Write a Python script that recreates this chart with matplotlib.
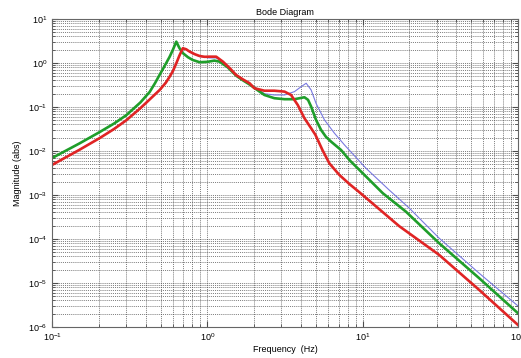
import matplotlib
matplotlib.use('Agg')
import matplotlib.pyplot as plt
import numpy as np

plt.rcParams['font.family'] = ['Liberation Sans', 'DejaVu Sans']

# values
freq_green = [0.1, 0.15, 0.203, 0.25, 0.3, 0.37, 0.425, 0.46, 0.493, 0.53, 0.572, 0.6, 0.631,
              0.66, 0.693, 0.75, 0.804, 0.891, 1.0, 1.11, 1.20, 1.35, 1.54, 1.7, 1.87, 2.17,
              2.33, 2.70, 3.14, 3.64, 4.0, 4.22, 4.45, 4.66, 5.01, 5.40, 5.8, 6.26, 7.26,
              8.3, 9.53, 13.5, 19.0, 31.1, 56.3, 100]
mag_green = [6.9e-3, 0.0148, 0.027, 0.0417, 0.0646, 0.126, 0.219, 0.347, 0.54, 0.85, 1.39, 2.0, 3.05,
             2.2, 1.69, 1.35, 1.17, 1.04, 1.06, 1.13, 1.07, 0.80, 0.507, 0.40, 0.324, 0.223,
             0.187, 0.158, 0.150, 0.150, 0.160, 0.166, 0.145, 0.102, 0.0507, 0.030, 0.021, 0.0163, 0.0105,
             6.0e-3, 3.7e-3, 1.09e-3, 4.17e-4, 7.98e-5, 1.28e-5, 2.05e-6]

freq_red = [0.1, 0.15, 0.203, 0.25, 0.3, 0.37, 0.425, 0.46, 0.493, 0.54, 0.572, 0.60, 0.631, 0.66,
            0.695, 0.73, 0.769, 0.83, 0.891, 0.96, 1.03, 1.14, 1.26, 1.4, 1.53, 1.7, 1.87, 2.01,
            2.33, 2.70, 3.14, 3.46, 3.82, 4.22, 4.66, 4.97, 5.51, 6.11, 7.08, 8.2, 9.53, 17.2,
            31.1, 56.3, 100]
mag_red = [4.81e-3, 0.0106, 0.0197, 0.0313, 0.0495, 0.0933, 0.148, 0.193, 0.243, 0.355, 0.489, 0.653, 0.984, 1.46,
           2.16, 2.05, 1.81, 1.58, 1.44, 1.38, 1.39, 1.39, 1.07, 0.75, 0.534, 0.42, 0.346, 0.266,
           0.234, 0.234, 0.223, 0.187, 0.111, 0.0553, 0.0328, 0.0231, 0.0105, 5.2e-3, 2.85e-3, 1.78e-3, 1.15e-3, 1.95e-4,
           4.33e-5, 6.93e-6, 1.11e-6]

freq_blue = [0.1, 0.203, 0.3, 0.425, 0.493, 0.572, 0.631, 0.695, 0.769, 0.891, 1.03, 1.14,
             1.26, 1.53, 1.87, 2.17, 2.33, 2.70, 3.14, 3.64, 4.02, 4.33, 4.66, 5.01,
             5.68, 6.59, 7.64, 10.5, 14.8, 20.0, 31.1, 56.3, 100]
mag_blue = [4.81e-3, 0.0197, 0.0495, 0.148, 0.243, 0.489, 0.984, 2.16, 1.81, 1.40, 1.30, 1.30,
            1.07, 0.52, 0.335, 0.24, 0.20, 0.187, 0.187, 0.223, 0.289, 0.346, 0.243, 0.121,
            0.0507, 0.0252, 0.0137, 4.05e-3, 1.30e-3, 4.99e-4, 1.04e-4, 1.66e-5, 3.0e-6]

fig = plt.figure(figsize=(5.21, 3.58), dpi=100)
ax = fig.add_axes([0.100, 0.087, 0.894, 0.860])

ax.loglog(freq_blue, mag_blue, color='#7878e0', lw=0.8)
ax.loglog(freq_green, mag_green, color='#1f9e2a', lw=1.9)
ax.loglog(freq_red, mag_red, color='#e02424', lw=1.9)

ax.set_xlim(0.1, 100)
ax.set_ylim(1e-6, 10)

ax.grid(True, which='both', linestyle=(0, (1.5, 1.5)), color='0.3', lw=0.5)
ax.tick_params(which='both', direction='in', top=True, right=True,
               labelsize=6.5, color='0.3')
ax.tick_params(which='major', length=4)
ax.tick_params(which='minor', length=2)
for s in ax.spines.values():
    s.set_color('0.4')
    s.set_linewidth(0.8)

ax.set_title('Bode Diagram', fontsize=6.5, pad=3)
ax.set_xlabel('Frequency  (Hz)', fontsize=6.5, labelpad=1)
ax.set_ylabel('Magnitude (abs)', fontsize=6.5, labelpad=4)

fig.savefig('out.png', dpi=100)
